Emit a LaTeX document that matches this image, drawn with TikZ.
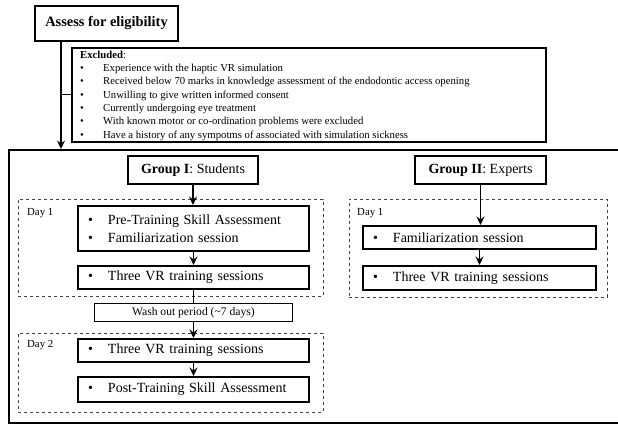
\documentclass[tikz,border=0pt]{standalone}
\usepackage{fontspec}
\setmainfont{Liberation Serif}
\usetikzlibrary{arrows.meta}
\newcommand{\bl}{\makebox[20pt][l]{•}}
\newcommand{\bs}{\makebox[23pt][l]{•}}
\begin{document}
\begin{tikzpicture}[x=1pt,y=-1pt,
  arr/.style={-{Stealth[length=8.5pt,width=8pt,inset=3pt]}, line width=1.2pt},
  ln/.style={line width=1.2pt},
  thickbox/.style={draw, line width=2pt, anchor=north west, inner sep=0pt},
  listbox/.style={draw, line width=2pt, anchor=north west, inner xsep=10pt, inner ysep=0pt, align=left, font=\fontsize{14}{17.5}\selectfont},
  dbox/.style={draw=black!75, dashed, line width=0.8pt, anchor=north west, inner sep=0pt},
  daylbl/.style={anchor=west, inner sep=0pt, font=\fontsize{10.8}{12}\selectfont}
]
\useasboundingbox (0,0) rectangle (618,424);
\fill[white] (0,0) rectangle (618,424);

% top
\node[thickbox, minimum width=143pt, minimum height=35pt, font=\fontsize{14.4}{16}\selectfont\bfseries] (assess) at (34,5) {Assess for eligibility};

\node[draw, line width=1.6pt, anchor=north west, minimum width=474pt, minimum height=94pt, inner sep=0pt] (excl) at (71,47) {};
\node[anchor=north west, inner sep=0pt, align=left, font=\fontsize{10.7}{13.3}\selectfont] (excltext) at (80,50.7) {\textbf{Excluded}:\\
\bs Experience with the haptic VR simulation\\
\bs Received below 70 marks in knowledge assessment of the endodontic access opening\\
\bs Unwilling to give written informed consent\\
\bs Currently undergoing eye treatment\\
\bs With known motor or co-ordination problems were excluded\\
\bs Have a history of any sympotms of associated with simulation sickness};

% main frame
\node[draw, line width=1.8pt, anchor=north west, minimum width=640pt, minimum height=273pt, inner sep=0pt] (main) at (8,149) {};

% dashed day boxes
\node[dbox, minimum width=305pt, minimum height=97pt] (d1) at (18,199) {};
\node[dbox, minimum width=258pt, minimum height=98pt] (d1r) at (349,199) {};
\node[dbox, minimum width=305pt, minimum height=79pt] (d2) at (18,333) {};

\node[daylbl] (day1) at (27,213) {Day 1};
\node[daylbl] (day1r) at (357,213) {Day 1};
\node[daylbl] (day2) at (27,345) {Day 2};

% groups
\node[thickbox, minimum width=130pt, minimum height=28pt, font=\fontsize{14}{16}\selectfont] (g1) at (127,155) {\textbf{Group I}: Students};
\node[thickbox, minimum width=131pt, minimum height=28pt, font=\fontsize{14}{16}\selectfont] (g2) at (414,155) {\textbf{Group II}: Experts};

% left column
\node[listbox, text width=211pt, minimum height=45pt] (pre) at (77,205) {\bl Pre-Training Skill Assessment\\ \bl Familiarization session};
\node[listbox, text width=211pt, minimum height=23pt] (tvr1) at (77,265) {\bl Three VR training sessions};
\node[draw, line width=0.8pt, anchor=north west, minimum width=198pt, minimum height=18pt, inner sep=0pt, font=\fontsize{11.6}{13}\selectfont] (wash) at (94,303) {Wash out period (\textasciitilde7 days)};
\node[listbox, text width=211pt, minimum height=23pt] (tvr2) at (77,338) {\bl Three VR training sessions};
\node[listbox, text width=211pt, minimum height=25pt] (post) at (77,376) {\bl Post-Training Skill Assessment};

% right column
\node[listbox, text width=213pt, minimum height=23pt] (fam) at (362,225) {\bl Familiarization session};
\node[listbox, text width=213pt, minimum height=24pt] (tvr3) at (362,265) {\bl Three VR training sessions};

% connectors
\coordinate (v) at (61,0);
\draw[arr] (assess.south -| v) -- (main.north -| v);
\draw[ln] (v |- excl.west) -- (excl.west);
\draw[arr] (g1.south) -- (g1.south |- pre.north);
\draw[arr] (pre.south) -- (tvr1.north);
\draw[ln] (tvr1.south) -- (tvr1.south |- wash.north);
\draw[arr] (tvr1.south |- wash.south) -- (tvr1.south |- tvr2.north);
\draw[arr] (tvr2.south) -- (post.north);
\draw[arr] (g2.south) -- (g2.south |- fam.north);
\draw[arr] (fam.south) -- (tvr3.north);
\end{tikzpicture}
\end{document}
